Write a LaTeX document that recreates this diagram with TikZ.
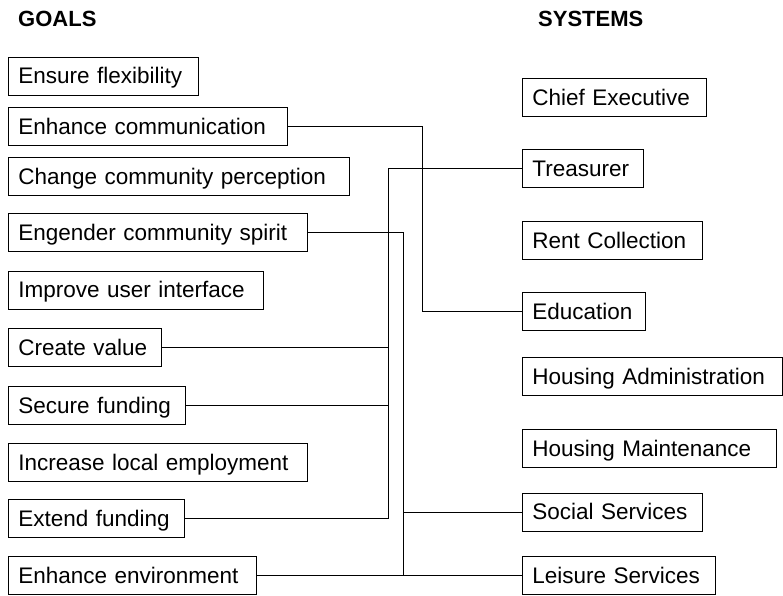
\documentclass[tikz,border=0pt]{standalone}
\usepackage{fontspec}
\setmainfont{Liberation Sans}
\begin{document}
\begin{tikzpicture}[x=1pt,y=-1pt,
  box/.style={draw, line width=0.7pt, anchor=west, minimum height=38pt, inner xsep=10pt, inner ysep=0pt, align=left,
    text height=15.5pt, text depth=0pt, font=\fontsize{22.5}{26}\selectfont},
  head/.style={anchor=base west, inner sep=0pt, font=\fontsize{22}{26}\selectfont\bfseries},
  link/.style={line width=0.8pt}]
\useasboundingbox (0,0) rectangle (783,595);
\node[head] (hg) at (18,26) {GOALS};
\node[head] (hs) at (538,26) {SYSTEMS};
% goals
\node[box, text width=170pt] (g1) at (8,76) {Ensure flexibility};
\node[box, text width=259pt] (g2) at (8,126.5) {Enhance communication};
\node[box, text width=321pt] (g3) at (8,176.5) {Change community perception};
\node[box, text width=279pt] (g4) at (8,232.5) {Engender community spirit};
\node[box, text width=235pt] (g5) at (8,290) {Improve user interface};
\node[box, text width=133pt] (g6) at (8,347.5) {Create value};
\node[box, text width=157pt] (g7) at (8,405.5) {Secure funding};
\node[box, text width=279pt] (g8) at (8,462.5) {Increase local employment};
\node[box, text width=156pt] (g9) at (8,518.5) {Extend funding};
\node[box, text width=228pt] (g10) at (8,575.5) {Enhance environment};
% systems
\node[box, text width=164pt] (s1) at (522,97.5) {Chief Executive};
\node[box, text width=101pt] (s2) at (522,168.5) {Treasurer};
\node[box, text width=160pt] (s3) at (522,240.5) {Rent Collection};
\node[box, text width=103pt] (s4) at (522,311.5) {Education};
\node[box, text width=240pt] (s5) at (522,376.5) {Housing Administration};
\node[box, text width=234pt] (s6) at (522,448.5) {Housing Maintenance};
\node[box, text width=160pt] (s7) at (522,512) {Social Services};
\node[box, text width=173pt] (s8) at (522,575.5) {Leisure Services};
% junction columns
\coordinate (j1) at (422,0);
\coordinate (j2) at (388,0);
\coordinate (j3) at (403,0);
% connectors
\draw[link] (g2.east) -| (j1 |- s4.west) -- (s4.west);
\draw[link] (s2.west) -| (j2 |- g9.east) -- (g9.east);
\draw[link] (g6.east) -- (j2 |- g6.east);
\draw[link] (g7.east) -- (j2 |- g7.east);
\draw[link] (g4.east) -| (j3 |- s8.west);
\draw[link] (g10.east) -- (s8.west);
\draw[link] (j3 |- s7.west) -- (s7.west);
\end{tikzpicture}
\end{document}
